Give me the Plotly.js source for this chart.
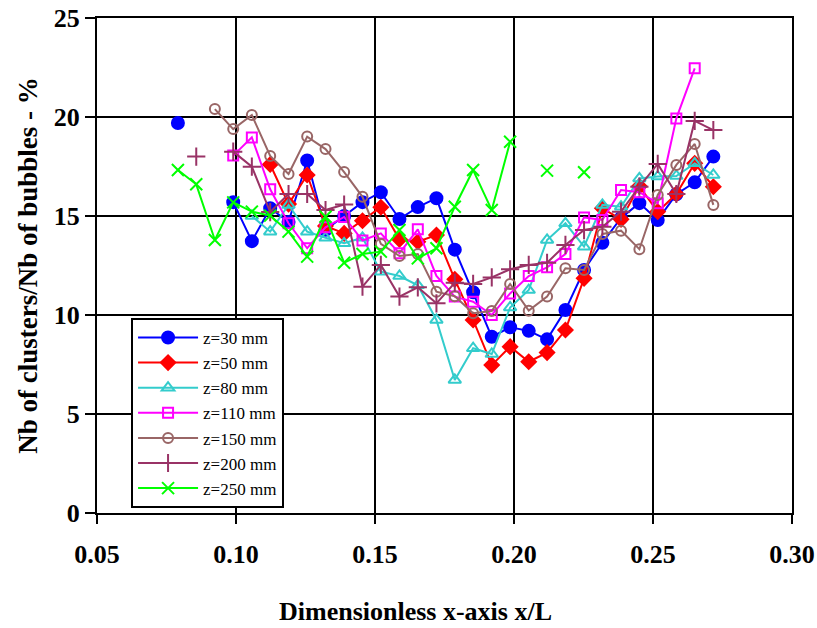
<!DOCTYPE html>
<html>
<head>
<meta charset="utf-8">
<script src="https://cdn.plot.ly/plotly-3.0.1.min.js"></script>
<style>html,body{margin:0;padding:0;background:#fff;}#chart{width:817px;height:628px;}</style>
</head>
<body>
<div id="chart"></div>
<script>
const xPos = [0.0791, 0.0857, 0.0924, 0.0990, 0.1057, 0.1123, 0.1189, 0.1256, 0.1322, 0.1389,
              0.1455, 0.1521, 0.1588, 0.1654, 0.1721, 0.1787, 0.1853, 0.1920, 0.1986, 0.2053,
              0.2119, 0.2185, 0.2252, 0.2318, 0.2385, 0.2451, 0.2517, 0.2584, 0.2650, 0.2717];

const z30 = [19.7, null, null, 15.7, 13.73, 15.39, 14.7, 17.8, 14.3, 15.0,
             15.7, 16.2, 14.85, 15.45, 15.9, 13.3, 11.15, 8.9, 9.38, 9.2,
             8.77, 10.25, 12.27, 13.65, 14.9, 15.65, 14.8, 16.1, 16.7, 18.0];
const z50 = [null, null, null, null, null, 17.6, 15.6, 17.07, 14.5, 14.12,
             14.76, 15.44, 13.82, 13.7, 14.04, 11.8, 9.75, 7.47, 8.4, 7.64,
             8.1, 9.24, 11.85, 15.39, 14.83, 16.5, 15.22, 16.11, 17.66, 16.48];
const z80 = [null, null, null, null, 15.0, 14.21, 15.56, 14.21, 13.9, 13.62,
             13.9, 12.19, 11.97, 11.5, 9.75, 6.72, 8.32, 8.03, 10.38, 11.26,
             13.79, 14.63, 13.45, 15.56, 15.47, 16.9, 16.99, 17.02, 17.66, 17.07];
const z110 = [null, null, null, 18.05, 18.97, 16.35, 14.63, 13.37, 14.43, 14.95,
              13.76, 14.12, 13.12, 14.33, 11.97, 10.93, 10.67, 10.0, 11.09, 11.97,
              12.41, 13.08, 14.93, 14.8, 16.31, 16.2, 15.64, 19.93, 22.46, null];
const z150 = [null, null, 20.4, 19.39, 20.1, 18.03, 17.12, 19.01, 18.38, 17.22,
              15.97, 13.59, 12.98, 13.08, 11.18, 10.95, 10.09, 10.2, 11.57, 10.22,
              10.93, 12.36, 12.27, 14.09, 14.26, 13.32, 16.06, 17.58, 18.64, 15.56];
const z200 = [null, 18.0, null, 18.25, 17.49, 15.2, 16.11, 16.11, 15.3, 15.58,
              11.43, 12.53, 10.93, 11.4, 10.59, 11.63, 11.57, 11.9, 12.31, 12.53,
              12.64, 13.54, 14.29, 14.46, 15.22, 16.48, 17.63, 16.11, 19.8, 19.34];
const z250 = [17.32, 16.6, 13.79, 15.69, 15.22, 15.02, 14.21, 12.95, 14.96, 12.64,
              13.08, 13.2, 14.29, 12.86, 13.37, 15.47, 17.32, 15.3, 18.75, null,
              17.29, null, 17.21, null, null, null, null, null, null, null];

const seriesNames = ['z=30 mm', 'z=50 mm', 'z=80 mm', 'z=110 mm', 'z=150 mm', 'z=200 mm', 'z=250 mm'];
const seriesData = [z30, z50, z80, z110, z150, z200, z250];
const xTitle = 'Dimensionless x-axis x/L';
const yTitle = 'Nb of clusters/Nb of bubbles - %';

const styles = [
  {color: '#0000FF', symbol: 'circle', size: 12},
  {color: '#FF0000', symbol: 'diamond', size: 11},
  {color: '#33CCCC', symbol: 'triangle-up-open', size: 11},
  {color: '#FF00FF', symbol: 'square-open', size: 10},
  {color: '#996666', symbol: 'circle-open', size: 10},
  {color: '#993366', symbol: 'cross-thin-open', size: 13},
  {color: '#00FF00', symbol: 'x-thin-open', size: 12}
];

const traces = seriesData.map((ys, k) => ({
  type: 'scatter',
  mode: 'lines+markers',
  name: seriesNames[k],
  x: xPos,
  y: ys,
  connectgaps: false,
  line: {color: styles[k].color, width: 2},
  marker: {symbol: styles[k].symbol, size: styles[k].size, color: styles[k].color,
           line: {color: styles[k].color, width: 2}}
}));

const serif = 'Liberation Serif, Times New Roman, serif';

const layout = {
  width: 817, height: 628,
  margin: {l: 97, r: 25, t: 18, b: 115},
  paper_bgcolor: '#fff', plot_bgcolor: '#fff',
  showlegend: true,
  legend: {
    x: 0.049, y: 0.394, xanchor: 'left', yanchor: 'top',
    bgcolor: '#fff', bordercolor: '#000', borderwidth: 2,
    font: {family: serif, size: 17, color: '#000'},
    itemwidth: 60,
    tracegroupgap: 0
  },
  xaxis: {
    range: [0.05, 0.30], dtick: 0.05, tick0: 0.05, tickformat: '.2f',
    showgrid: true, gridcolor: '#000', gridwidth: 2,
    showline: true, linecolor: '#000', linewidth: 2, mirror: true,
    ticks: 'outside', ticklen: 9, tickwidth: 2, tickcolor: '#000',
    zeroline: false,
    ticklabelstandoff: 8,
    tickfont: {family: serif, size: 26, color: '#000', weight: 'bold'}
  },
  yaxis: {
    range: [0, 25], dtick: 5,
    showgrid: true, gridcolor: '#000', gridwidth: 2,
    showline: true, linecolor: '#000', linewidth: 2, mirror: true,
    ticks: 'outside', ticklen: 10, tickwidth: 2, tickcolor: '#000',
    zeroline: false,
    tickfont: {family: serif, size: 26, color: '#000', weight: 'bold'},
    title: {text: '<b>' + yTitle + '</b>', standoff: 8,
            font: {family: serif, size: 27, color: '#000'}}
  },
  annotations: [{
    text: '<b>' + xTitle + '</b>',
    xref: 'paper', yref: 'paper', x: 0.4576, y: -0.198,
    xanchor: 'center', yanchor: 'middle', showarrow: false,
    font: {family: serif, size: 26, color: '#000'}
  }]
};

Plotly.newPlot('chart', traces, layout, {displayModeBar: false, staticPlot: true});
</script>
</body>
</html>
